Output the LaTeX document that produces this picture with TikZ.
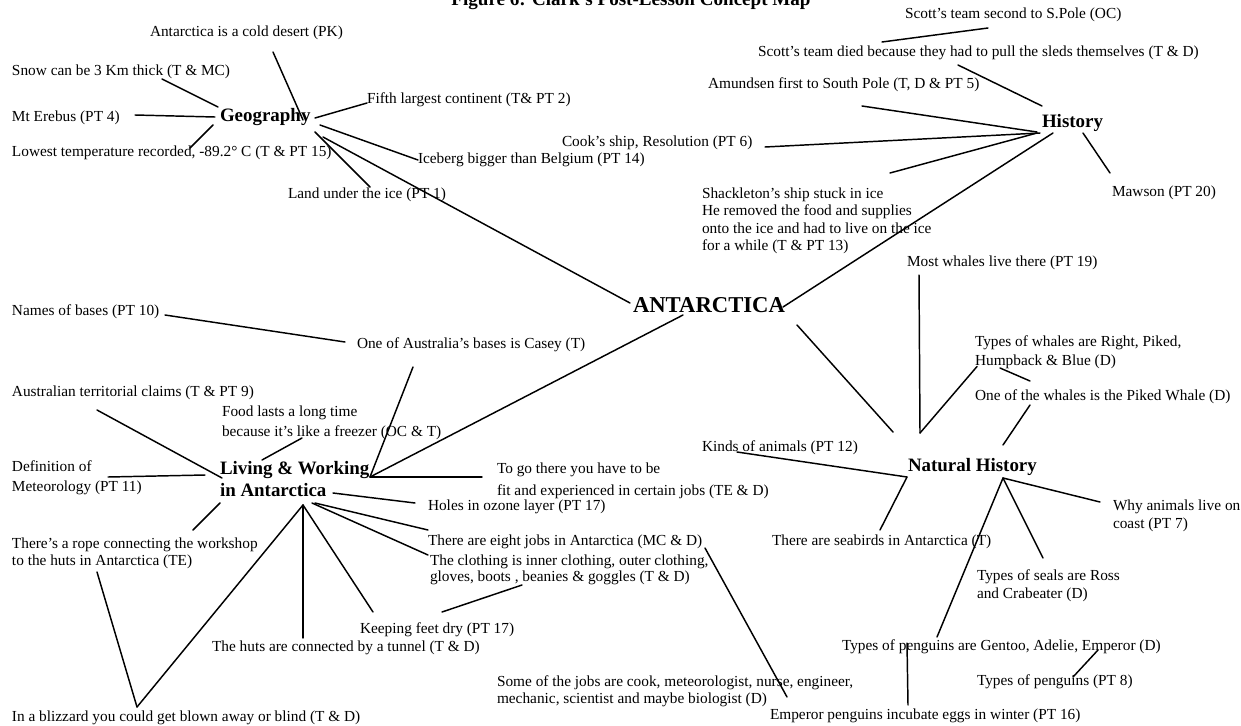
\documentclass[tikz,border=0pt]{standalone}
\usepackage{fontspec}
\setmainfont{Liberation Serif}
\begin{document}
\begin{tikzpicture}[x=0.75pt,y=-0.75pt,
  every node/.style={inner sep=0pt,outer sep=0pt},
  txt/.style={anchor=west,align=left,font=\fontsize{11.5}{13}\selectfont},
  tlead/.style={font=\fontsize{11.5}{#1}\selectfont},
  hdr/.style={anchor=west,align=left,font=\fontsize{14.2}{16.5}\selectfont\bfseries},
  link/.style={line width=1.1pt,line cap=round}]
\useasboundingbox (0,0) rectangle (1241,725);

% title (runs off the top edge)
\node[anchor=base,font=\fontsize{14.3}{16}\selectfont\bfseries] (title) at (631,5) {Figure 6: Clark's Post-Lesson Concept Map};

% ---- Geography ----
\node[txt] (desert) at (150,33) {Antarctica is a cold desert (PK)};
\node[txt] (snow) at (12,72) {Snow can be 3 Km thick (T \& MC)};
\node[txt] (erebus) at (12,118) {Mt Erebus (PT 4)};
\node[hdr] (geo) at (220,117) {Geography};
\node[txt] (lowest) at (12,153) {Lowest temperature recorded, -89.2° C (T \& PT 15)};
\node[txt] (fifth) at (367,100) {Fifth largest continent (T\& PT 2)};
\node[txt] (iceberg) at (418,160) {Iceberg bigger than Belgium (PT 14)};
\node[txt] (land) at (288,195) {Land under the ice (PT 1)};

% ---- centre ----
\node[anchor=west,font=\fontsize{17}{20}\selectfont\bfseries] (ant) at (633,305) {ANTARCTICA};

% ---- History ----
\node[txt] (scott2) at (905,15) {Scott's team second to S.Pole (OC)};
\node[txt] (died) at (758,53) {Scott's team died because they had to pull the sleds themselves (T \& D)};
\node[txt] (amund) at (708,85) {Amundsen first to South Pole (T, D \& PT 5)};
\node[txt] (cook) at (562,143) {Cook's ship, Resolution (PT 6)};
\node[hdr] (hist) at (1042,123) {History};
\node[txt,tlead=13.1] (shack) at (702,221) {Shackleton's ship stuck in ice\\He removed the food and supplies\\onto the ice and had to live on the ice\\for a while (T \& PT 13)};
\node[txt] (mawson) at (1112,193) {Mawson (PT 20)};

% ---- Natural History ----
\node[txt] (mostw) at (907,263) {Most whales live there (PT 19)};
\node[txt,tlead=14.2] (typew) at (975,352.5) {Types of whales are Right, Piked,\\Humpback \& Blue (D)};
\node[txt] (piked) at (975,397) {One of the whales is the Piked Whale (D)};
\node[hdr] (nat) at (908,467) {Natural History};
\node[txt] (kinds) at (702,448) {Kinds of animals (PT 12)};
\node[txt] (seabird) at (772,542) {There are seabirds in Antarctica (T)};
\node[txt,tlead=13.5] (why) at (1113,516) {Why animals live on\\coast (PT 7)};
\node[txt,tlead=13.5] (seals) at (977,586) {Types of seals are Ross\\and Crabeater (D)};
\node[txt] (peng) at (842,647) {Types of penguins are Gentoo, Adelie, Emperor (D)};
\node[txt] (pengt) at (977,682) {Types of penguins (PT 8)};
\node[txt] (emp) at (770,716) {Emperor penguins incubate eggs in winter (PT 16)};

% ---- Living & Working ----
\node[txt] (names) at (12,312) {Names of bases (PT 10)};
\node[txt] (casey) at (357,345) {One of Australia's bases is Casey (T)};
\node[txt] (claims) at (12,393) {Australian territorial claims (T \& PT 9)};
\node[txt,tlead=15] (food) at (222,423) {Food lasts a long time\\because it's like a freezer (OC \& T)};
\node[txt,tlead=15] (defn) at (12,478) {Definition of\\Meteorology (PT 11)};
\node[hdr] (liv) at (220,479) {Living \& Working\\in Antarctica};
\node[txt,tlead=16.5] (togo) at (497,481) {To go there you have to be\\fit and experienced in certain jobs (TE \& D)};
\node[txt] (holes) at (428,507) {Holes in ozone layer (PT 17)};
\node[txt] (eight) at (428,542) {There are eight jobs in Antarctica (MC \& D)};
\node[txt,tlead=12] (cloth) at (430,570) {The clothing is inner clothing, outer clothing,\\gloves, boots , beanies \& goggles (T \& D)};
\node[txt,tlead=12.75] (rope) at (12,553) {There's a rope connecting the workshop\\to the huts in Antarctica (TE)};
\node[txt] (feet) at (360,630) {Keeping feet dry (PT 17)};
\node[txt] (tunnel) at (212,648) {The huts are connected by a tunnel (T \& D)};
\node[txt] (bliz) at (12,718) {In a blizzard you could get blown away or blind (T \& D)};
\node[txt,tlead=12.75] (jobs) at (497,691.5) {Some of the jobs are cook, meteorologist, nurse, engineer,\\mechanic, scientist and maybe biologist (D)};

% ---- connectors: Geography ----
\draw[link] ([shift={(150,7)}]snow.west) -- ([shift={(-2,-10)}]geo.west);
\draw[link] ([shift={(123,19)}]desert.west) -- ([shift={(83,3)}]geo.west);
\draw[link] ([shift={(123,-3)}]erebus.west) -- ([shift={(-5,0)}]geo.west);
\draw[link] ([shift={(178,-5)}]lowest.west) -- ([shift={(-7,8)}]geo.west);
\draw[link] ([shift={(95,1)}]geo.west) -- ([shift={(0,3)}]fifth.west);
\draw[link] ([shift={(100,8)}]geo.west) -- (iceberg.west);
\draw[link] ([shift={(95,15)}]geo.west) -- ([shift={(82,-8)}]land.west);
\draw[link] ([shift={(103,20)}]geo.west) -- ([shift={(-3,-2)}]ant.west);

% ---- connectors: centre ----
\draw[link] ([shift={(150,2)}]ant.west) -- ([shift={(11,10)}]hist.west);
\draw[link] ([shift={(164,20)}]ant.west) -- ([shift={(-15,-35)}]nat.west);
\draw[link] ([shift={(50,10)}]ant.west) -- ([shift={(150,-2)}]liv.west);

% ---- connectors: History ----
\draw[link] ([shift={(124,-11)}]died.west) -- ([shift={(83,13)}]scott2.west);
\draw[link] ([shift={(200,12)}]died.west) -- ([shift={(0,-17)}]hist.west);
\draw[link] ([shift={(154,21)}]amund.west) -- ([shift={(-5,9)}]hist.west);
\draw[link] ([shift={(203,4)}]cook.west) -- ([shift={(-2,10)}]hist.west);
\draw[link] ([shift={(188,-48)}]shack.west) -- ([shift={(-5,10)}]hist.west);
\draw[link] ([shift={(41,10)}]hist.west) -- ([shift={(-2,-20)}]mawson.west);

% ---- connectors: Natural History ----
\draw[link] ([shift={(12,12)}]mostw.west) -- ([shift={(12,-34)}]nat.west);
\draw[link] ([shift={(12,-34)}]nat.west) -- ([shift={(2,14)}]typew.west);
\draw[link] ([shift={(25,15.5)}]typew.west) -- ([shift={(55,-16)}]piked.west);
\draw[link] ([shift={(55,8)}]piked.west) -- ([shift={(95,-22)}]nat.west);
\draw[link] ([shift={(35,4)}]kinds.west) -- ([shift={(-1,10)}]nat.west);
\draw[link] ([shift={(-1,10)}]nat.west) -- ([shift={(108,-12)}]seabird.west);
\draw[link] ([shift={(95,11)}]nat.west) -- ([shift={(-13,-14)}]why.west);
\draw[link] ([shift={(95,11)}]nat.west) -- ([shift={(95,-10)}]peng.west);
\draw[link] ([shift={(95,11)}]nat.west) -- ([shift={(66,-28)}]seals.west);
\draw[link] ([shift={(65,-4)}]peng.west) -- ([shift={(138,-11)}]emp.west);
\draw[link] ([shift={(256,3)}]peng.west) -- ([shift={(96,-5)}]pengt.west);

% ---- connectors: Living & Working ----
\draw[link] ([shift={(153,3)}]names.west) -- ([shift={(-12,-3)}]casey.west);
\draw[link] ([shift={(56,22)}]casey.west) -- ([shift={(150,-2)}]liv.west);
\draw[link] ([shift={(85,17)}]claims.west) -- ([shift={(2,-1)}]liv.west);
\draw[link] ([shift={(80,15)}]food.west) -- ([shift={(42,-19)}]liv.west);
\draw[link] ([shift={(96,-1)}]defn.west) -- ([shift={(-15,-4)}]liv.west);
\draw[link] ([shift={(150,-2)}]liv.west) -- ([shift={(-15,-4)}]togo.west);
\draw[link] ([shift={(113,14)}]liv.west) -- ([shift={(-13,-4)}]holes.west);
\draw[link] ([shift={(95,24)}]liv.west) -- ([shift={(0,-12)}]eight.west);
\draw[link] ([shift={(92,24)}]liv.west) -- ([shift={(-2,-15)}]cloth.west);
\draw[link] ([shift={(92,15)}]cloth.west) -- ([shift={(82,-18)}]feet.west);
\draw[link] ([shift={(277,6)}]eight.west) -- ([shift={(290,5.5)}]jobs.west);
\draw[link] ([shift={(0,24)}]liv.west) -- ([shift={(181,-23)}]rope.west);
\draw[link] ([shift={(85,19)}]rope.west) -- ([shift={(125,-11)}]bliz.west);
\draw[link] ([shift={(125,-11)}]bliz.west) -- ([shift={(83,26)}]liv.west);
\draw[link] ([shift={(83,26)}]liv.west) -- ([shift={(91,-10)}]tunnel.west);
\draw[link] ([shift={(83,26)}]liv.west) -- ([shift={(13,-18)}]feet.west);
\end{tikzpicture}
\end{document}
